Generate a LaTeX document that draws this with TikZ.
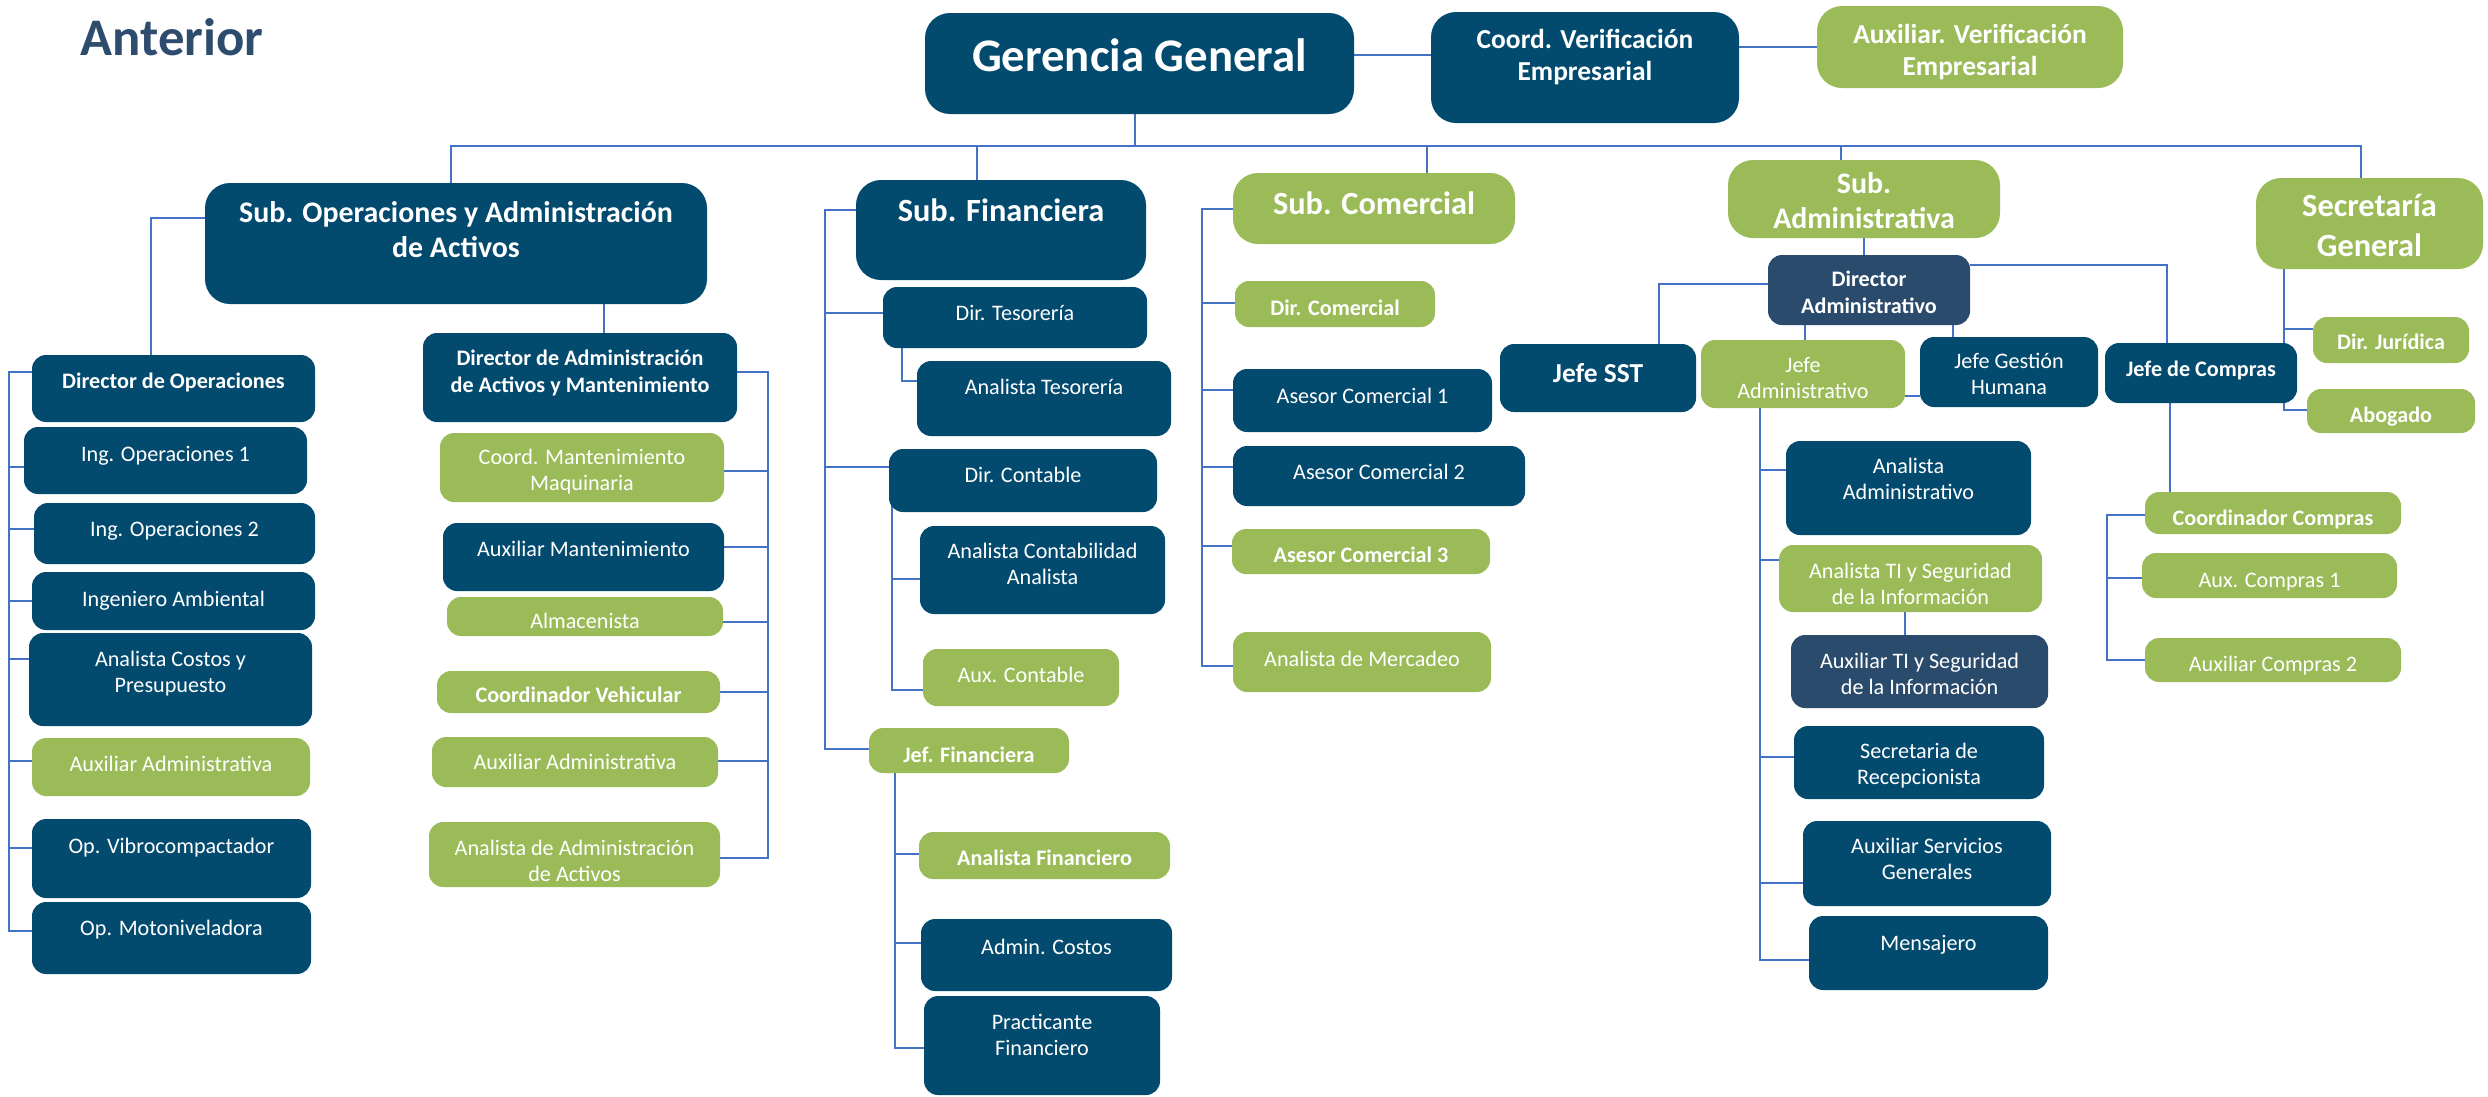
\documentclass[tikz,border=0pt]{standalone}
\usepackage{fontspec}
\setmainfont{Carlito}
\usetikzlibrary{fit}
\definecolor{cdk}{RGB}{3,74,111}
\definecolor{csl}{RGB}{43,75,108}
\definecolor{cgr}{RGB}{155,187,89}
\definecolor{cln}{RGB}{68,114,196}
\definecolor{cttl}{RGB}{46,76,110}
\pgfdeclarelayer{bgl}
\pgfsetlayers{bgl,main}
\newcommand\bx[9]{%
  \node[#2, fit={(#3,#4) (#5,#6)}] (#1) {};
  \node[#8] (#1-t) at (#1.center |- 0,#7) {#9};}
\tikzset{
  boxbase/.style={inner sep=0pt, outer sep=0pt, draw=none},
  bd/.style={boxbase, fill=cdk, rounded corners=0.14cm},
  bs/.style={boxbase, fill=csl, rounded corners=0.14cm},
  bg/.style={boxbase, fill=cgr, rounded corners=0.14cm},
  bdL/.style={boxbase, fill=cdk, rounded corners=0.25cm},
  bgL/.style={boxbase, fill=cgr, rounded corners=0.25cm},
  txt/.style={text=white, align=center, inner sep=0pt, yshift=-0.03cm,
    execute at begin node=\strut, execute at end node=\strut},
  ts/.style={txt, font=\fontsize{6.3pt}{7.5pt}\selectfont},
  tsb/.style={txt, font=\fontsize{6.3pt}{7.5pt}\selectfont\bfseries},
  tm/.style={txt, font=\fontsize{7.8pt}{9.1pt}\selectfont\bfseries},
  tl/.style={txt, font=\fontsize{8.5pt}{10pt}\selectfont\bfseries},
  txl/.style={txt, font=\fontsize{9.2pt}{11.4pt}\selectfont\bfseries},
  tgg/.style={txt, font=\fontsize{13.3pt}{16pt}\selectfont\bfseries},
  conn/.style={draw=cln, line width=0.6pt},
}
\begin{document}
\begin{tikzpicture}[x=0.01cm, y=-0.01cm]
\useasboundingbox (0,0) rectangle (2488,1096);

\node[anchor=base west, inner sep=0pt, text=cttl, font=\fontsize{15pt}{18pt}\selectfont\bfseries] (title) at (80,55) {Anterior};

% top level
\bx{gg}{bdL}{925}{13}{1354}{114}{57}{tgg}{Gerencia General}
\bx{coordv}{bdL}{1431}{12}{1739}{123}{57}{tm}{Coord. Verificación\\Empresarial}
\bx{auxv}{bgL}{1817}{6}{2123}{88}{52}{tm}{Auxiliar. Verificación\\Empresarial}
\bx{subops}{bdL}{205}{183}{707}{304}{232}{tl}{Sub. Operaciones y Administración\\de Activos}
\bx{subfin}{bdL}{856}{180}{1146}{280}{210}{txl}{Sub. Financiera}
\bx{subcom}{bgL}{1233}{173}{1515}{244}{203}{txl}{Sub. Comercial}
\bx{subadm}{bgL}{1728}{160}{2000}{238}{203}{tl}{Sub.\\Administrativa}
\bx{secgen}{bgL}{2256}{178}{2483}{269}{228}{txl}{Secretaría\\General}

% operaciones
\bx{dop}{bd}{32}{355}{315}{422}{380}{tsb}{Director de Operaciones}
\bx{ing1}{bd}{24}{427}{307}{494}{453}{ts}{Ing. Operaciones 1}
\bx{ing2}{bd}{34}{503}{315}{564}{528}{ts}{Ing. Operaciones 2}
\bx{ingamb}{bd}{32}{572}{315}{630}{598}{ts}{Ingeniero Ambiental}
\bx{acostos}{bd}{29}{633}{312}{726}{673}{ts}{Analista Costos y\\Presupuesto}
\bx{auxadm1}{bg}{32}{738}{310}{796}{763}{ts}{Auxiliar Administrativa}
\bx{opvib}{bd}{32}{819}{311}{898}{845}{ts}{Op. Vibrocompactador}
\bx{opmot}{bd}{32}{902}{311}{974}{927}{ts}{Op. Motoniveladora}

\bx{dadm}{bd}{423}{333}{737}{422}{372}{tsb}{Director de Administración\\de Activos y Mantenimiento}
\bx{cmm}{bg}{440}{433}{724}{502}{471}{ts}{Coord. Mantenimiento\\Maquinaria}
\bx{auxmant}{bd}{443}{523}{724}{591}{548}{ts}{Auxiliar Mantenimiento}
\bx{almac}{bg}{447}{597}{723}{636}{620}{ts}{Almacenista}
\bx{cveh}{bg}{437}{671}{720}{713}{694}{tsb}{Coordinador Vehicular}
\bx{auxadm2}{bg}{432}{737}{718}{787}{761}{ts}{Auxiliar Administrativa}
\bx{analact}{bg}{429}{822}{720}{887}{862}{ts}{Analista de Administración\\de Activos}

% financiera
\bx{dtes}{bd}{883}{287}{1147}{348}{312}{ts}{Dir. Tesorería}
\bx{ates}{bd}{917}{361}{1171}{436}{386}{ts}{Analista Tesorería}
\bx{dcont}{bd}{889}{449}{1157}{512}{474}{ts}{Dir. Contable}
\bx{acont}{bd}{920}{526}{1165}{614}{565}{ts}{Analista Contabilidad\\Analista}
\bx{auxcont}{bg}{923}{649}{1119}{706}{674}{ts}{Aux. Contable}
\bx{jeffin}{bg}{869}{728}{1069}{773}{754}{tsb}{Jef. Financiera}
\bx{afin}{bg}{919}{832}{1170}{879}{857}{tsb}{Analista Financiero}
\bx{admcost}{bd}{921}{919}{1172}{991}{946}{ts}{Admin. Costos}
\bx{pract}{bd}{924}{996}{1160}{1095}{1036}{ts}{Practicante\\Financiero}

% comercial
\bx{dcom}{bg}{1235}{281}{1435}{327}{307}{tsb}{Dir. Comercial}
\bx{ase1}{bd}{1233}{369}{1492}{432}{395}{ts}{Asesor Comercial 1}
\bx{ase2}{bd}{1233}{446}{1525}{506}{471}{ts}{Asesor Comercial 2}
\bx{ase3}{bg}{1232}{529}{1490}{574}{554}{tsb}{Asesor Comercial 3}
\bx{amerc}{bg}{1233}{632}{1491}{692}{658}{ts}{Analista de Mercadeo}

% administrativa
\bx{sst}{bd}{1500}{344}{1696}{412}{373}{tm}{Jefe SST}
\bx{diradm}{bs}{1768}{255}{1970}{325}{293}{tsb}{Director\\Administrativo}
\bx{jadm}{bg}{1701}{340}{1905}{408}{379}{ts}{Jefe\\Administrativo}
\bx{jgh}{bd}{1920}{337}{2098}{407}{375}{ts}{Jefe Gestión\\Humana}
\bx{jcomp}{bd}{2105}{343}{2297}{403}{368}{tsb}{Jefe de Compras}
\bx{analadm}{bd}{1786}{441}{2031}{535}{480}{ts}{Analista\\Administrativo}
\bx{anti}{bg}{1779}{545}{2042}{612}{585}{ts}{Analista TI y Seguridad\\de la Información}
\bx{auxti}{bs}{1791}{635}{2048}{708}{675}{ts}{Auxiliar TI y Seguridad\\de la Información}
\bx{secrec}{bd}{1794}{726}{2044}{799}{765}{ts}{Secretaria de\\Recepcionista}
\bx{auxsg}{bd}{1803}{821}{2051}{906}{860}{ts}{Auxiliar Servicios\\Generales}
\bx{mens}{bd}{1809}{916}{2048}{990}{942}{ts}{Mensajero}
\bx{ccomp}{bg}{2145}{492}{2401}{534}{517}{tsb}{Coordinador Compras}
\bx{auxc1}{bg}{2142}{553}{2397}{598}{579}{ts}{Aux. Compras 1}
\bx{auxc2}{bg}{2145}{638}{2401}{682}{663}{ts}{Auxiliar Compras 2}

% secretaria
\bx{djur}{bg}{2313}{317}{2469}{363}{341}{tsb}{Dir. Jurídica}
\bx{abog}{bg}{2307}{389}{2475}{433}{414}{tsb}{Abogado}

\begin{pgfonlayer}{bgl}
\fill[white] (0,0) rectangle (2488,1096);
\draw[conn] (gg.east |- 0,55) -- (coordv.west |- 0,55);
\draw[conn] (coordv.east |- 0,47) -- (auxv.west |- 0,47);
\foreach \n/\x in {subops/451, subfin/977, subcom/1427, subadm/1841, secgen/2361}
  {\draw[conn] (gg.south -| 1135,0) -- (1135,146) -| (\n.north -| \x,0);}

\draw[conn] (subops.west |- 0,218) -| (dop.north -| 151,0);
\draw[conn] (subops.south -| 604,0) -- (dadm.north -| 604,0);
\foreach \n/\y in {ing1/467, ing2/529, ingamb/601, acostos/659, auxadm1/761, opvib/848, opmot/931}
  {\draw[conn] (dop.west |- 0,372) -- (9,372) |- (\n.west |- 0,\y);}
\foreach \n/\y in {cmm/471, auxmant/547, almac/622, cveh/692, auxadm2/761, analact/858}
  {\draw[conn] (dadm.east |- 0,372) -- (768,372) |- (\n.east |- 0,\y);}

\foreach \n/\y in {dtes/313, dcont/467, jeffin/749}
  {\draw[conn] (subfin.west |- 0,210) -- (825,210) |- (\n.west |- 0,\y);}
\draw[conn] (dtes.center -| 902,0) |- (ates.west |- 0,381);
\foreach \n/\y in {acont/579, auxcont/690}
  {\draw[conn] (dcont.center -| 892,0) |- (\n.west |- 0,\y);}
\foreach \n/\y in {afin/854, admcost/943, pract/1048}
  {\draw[conn] (jeffin.center -| 895,0) |- (\n.west |- 0,\y);}

\foreach \n/\y in {dcom/303, ase1/390, ase2/467, ase3/546, amerc/666}
  {\draw[conn] (subcom.west |- 0,209) -- (1202,209) |- (\n.west |- 0,\y);}

\draw[conn] (subadm.south -| 1864,0) -- (diradm.north -| 1864,0);
\draw[conn] (diradm.west |- 0,284) -| (sst.north -| 1659,0);
\draw[conn] (diradm.east |- 0,265) -| (jcomp.north -| 2167,0);
\draw[conn] (diradm.south -| 1805,0) -- (jadm.north -| 1805,0);
\draw[conn] (diradm.south -| 1953,0) -- (jgh.north -| 1953,0);
\draw[conn] (jadm.east |- 0,396) -- (jgh.west |- 0,396);
\foreach \n/\y in {analadm/470, anti/560, secrec/757, auxsg/883, mens/960}
  {\draw[conn] (jadm.center -| 1760,0) |- (\n.west |- 0,\y);}
\draw[conn] (anti.south -| 1905,0) -- (auxti.north -| 1905,0);
\draw[conn] (jcomp.south -| 2170,0) -- (ccomp.north -| 2170,0);
\foreach \n/\y in {auxc1/578, auxc2/660}
  {\draw[conn] (ccomp.west |- 0,515) -- (2107,515) |- (\n.west |- 0,\y);}

\foreach \n/\y in {djur/329, abog/410}
  {\draw[conn] (secgen.center -| 2284,0) |- (\n.west |- 0,\y);}
\end{pgfonlayer}
\end{tikzpicture}
\end{document}
